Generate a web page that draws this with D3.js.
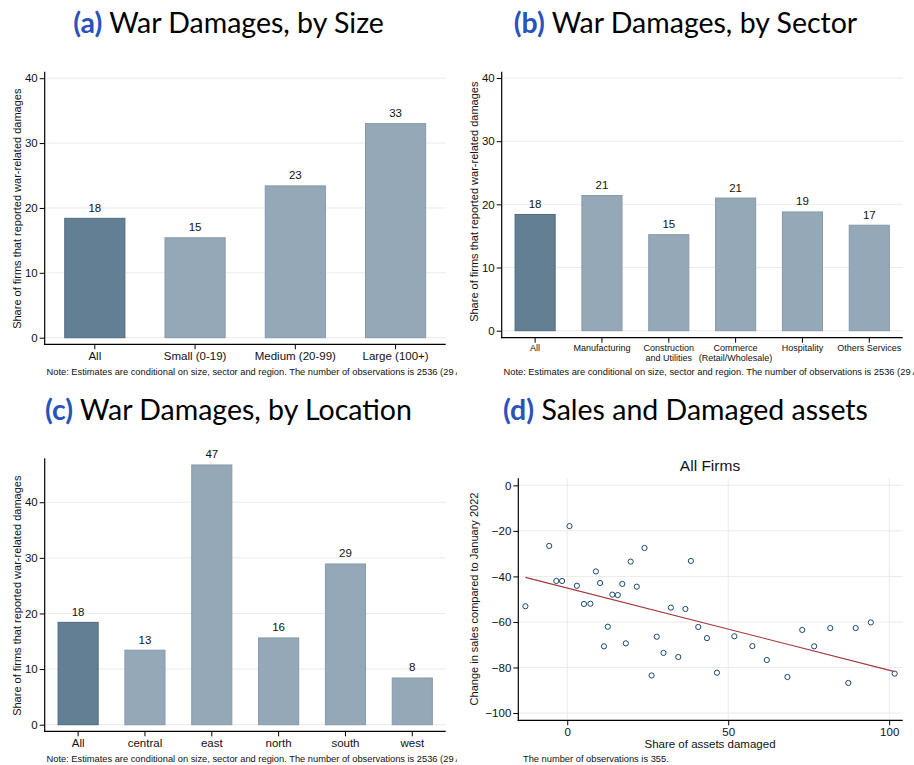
<!DOCTYPE html>
<html>
<head>
<meta charset="utf-8">
<script src="https://cdn.jsdelivr.net/npm/d3@7"></script>
<style>
  body { margin: 0; background: #fff; }
  text { font-family: "Liberation Sans", Arial, sans-serif; fill: #111; }
  .title { font-family: Lato, "Open Sans", sans-serif; font-size: 28.5px; fill: #000; }
  .title .tag { fill: #2a52be; font-weight: 700; }
</style>
</head>
<body>
<svg id="chart" width="914" height="765"></svg>
<script>
// panel (a) by size
var sizeCats = ["All", "Small (0-19)", "Medium (20-99)", "Large (100+)"];
var sizeVals = [18.4, 15.4, 23.4, 33.0];

// panel (b) by sector
var sectorCats = ["All", "Manufacturing", "Construction|and Utilities", "Commerce|(Retail/Wholesale)", "Hospitality", "Others Services"];
var sectorVals = [18.4, 21.4, 15.2, 21.0, 18.8, 16.7];

// panel (c) by location
var locCats = ["All", "central", "east", "north", "south", "west"];
var locVals = [18.4, 13.4, 46.7, 15.6, 28.9, 8.4];

var barTicks = [0, 10, 20, 30, 40];

// panel (d) binned scatter
var damaged = [-13.0, -5.6, -3.4, -1.6, 0.7, 3.0, 5.2, 7.2, 8.9, 10.2, 11.4, 12.6, 14.0, 15.7, 17.1, 18.2, 19.7, 21.6, 24.0, 26.2,
               27.8, 29.9, 32.2, 34.5, 36.7, 38.4, 40.7, 43.4, 46.5, 51.9, 57.5, 62.0, 68.4, 73.0, 76.7, 81.7, 87.3, 89.6, 94.3, 101.7];
var salesChg = [-53.1, -26.6, -42.0, -42.0, -17.9, -44.1, -52.1, -52.0, -37.8, -42.9, -70.7, -62.1, -48.0, -48.2, -43.3, -69.4, -33.5, -44.5, -27.5, -83.5,
                -66.5, -73.6, -53.7, -75.4, -54.3, -33.2, -62.2, -67.1, -82.3, -66.3, -70.6, -76.7, -84.2, -63.5, -70.7, -62.7, -86.8, -62.7, -60.2, -82.7];
var fitIntercept = -45.1;
var fitSlope = -0.361;
var scatterXTicks = [0, 50, 100];
var scatterYTicks = [0, -20, -40, -60, -80, -100];

var noteText = "Note: Estimates are conditional on size, sector and region. The number of observations is 2536 (29 A";

var darkFill = "#637f93", darkStroke = "#4f6a80";
var lightFill = "#95a8b8", lightStroke = "#8599ac";
var gridColor = "#ebebeb";

var svg = d3.select("#chart");
var panelW = 457;

function panel(x, y, id) {
  svg.append("clipPath").attr("id", "clip" + id)
    .append("rect").attr("width", panelW).attr("height", 390);
  return svg.append("g")
    .attr("transform", "translate(" + x + "," + y + ")")
    .attr("clip-path", "url(#clip" + id + ")");
}

function title(g, tag, txt, base) {
  var t = g.append("text").attr("class", "title")
    .attr("x", 228.5).attr("y", base).attr("text-anchor", "middle");
  t.append("tspan").attr("class", "tag").text(tag);
  t.append("tspan").text(" " + txt);
}

function barPanel(g, o) {
  var x = d3.scaleBand().domain(o.cats).range([44.7, 445.7])
    .paddingInner(0.4).paddingOuter(0.2);
  var y = d3.scaleLinear().domain([0, o.ymax]).range([o.y0, o.ytop]);

  // gridlines
  g.selectAll(".grid").data(barTicks).enter().append("line")
    .attr("x1", 46).attr("x2", 445.7)
    .attr("y1", function(d) { return y(d); }).attr("y2", function(d) { return y(d); })
    .attr("stroke", gridColor).attr("stroke-width", 1);

  // bars
  g.selectAll(".bar").data(o.vals).enter().append("rect")
    .attr("x", function(d, i) { return x(o.cats[i]); })
    .attr("width", x.bandwidth())
    .attr("y", function(d) { return y(d); })
    .attr("height", function(d) { return y(0) - y(d); })
    .attr("fill", function(d, i) { return i == 0 ? darkFill : lightFill; })
    .attr("stroke", function(d, i) { return i == 0 ? darkStroke : lightStroke; })
    .attr("stroke-width", 1);

  g.selectAll(".lab").data(o.vals).enter().append("text")
    .attr("x", function(d, i) { return x(o.cats[i]) + x.bandwidth() / 2; })
    .attr("y", function(d) { return y(d) - 6.5; })
    .attr("text-anchor", "middle").attr("font-size", 11.5)
    .text(function(d) { return Math.round(d); });

  // y axis
  var ya = g.append("g").attr("transform", "translate(44.7,0)")
    .call(d3.axisLeft(y).tickValues(barTicks).tickSize(5).tickPadding(2));
  ya.select(".domain").remove();
  ya.selectAll("text").attr("font-size", 11.5).attr("fill", "#111");
  g.append("line").attr("x1", 44.7).attr("x2", 44.7)
    .attr("y1", o.ytopAxis).attr("y2", o.xaxisY + 0.6)
    .attr("stroke", "#000").attr("stroke-width", 1.2);

  // x axis
  var xa = g.append("g").attr("transform", "translate(0," + o.xaxisY + ")")
    .call(d3.axisBottom(x).tickSize(5).tickFormat(""));
  xa.select(".domain").remove();
  g.append("line").attr("x1", 44.1).attr("x2", 445.7)
    .attr("y1", o.xaxisY).attr("y2", o.xaxisY)
    .attr("stroke", "#000").attr("stroke-width", 1.2);

  o.cats.forEach(function(c) {
    var lines = c.split("|");
    var t = g.append("text")
      .attr("x", x(c) + x.bandwidth() / 2).attr("y", o.labY)
      .attr("text-anchor", "middle").attr("font-size", o.labSize);
    lines.forEach(function(l, k) {
      t.append("tspan").attr("x", x(c) + x.bandwidth() / 2)
        .attr("dy", k == 0 ? 0 : 10).text(l);
    });
  });

  g.append("text")
    .attr("transform", "translate(21," + (o.y0 - 129) + ") rotate(-90)")
    .attr("text-anchor", "middle").attr("font-size", 11)
    .text("Share of firms that reported war-related damages");

  g.append("text").attr("x", 46.5).attr("y", o.noteY)
    .attr("font-size", 9.3).text(noteText);
}

// (a)
var ga = panel(0, 0, "a");
title(ga, "(a)", "War Damages, by Size", 32.5);
barPanel(ga, { cats: sizeCats, vals: sizeVals, ymax: 41, y0: 337.7, ytop: 71.7, ytopAxis: 71.7,
  xaxisY: 344.3, labY: 360, labSize: 11.5, noteY: 374.5 });

// (b)
var gb = panel(457, 0, "b");
title(gb, "(b)", "War Damages, by Sector", 32.5);
barPanel(gb, { cats: sectorCats, vals: sectorVals, ymax: 41, y0: 330.7, ytop: 71.7, ytopAxis: 71.7,
  xaxisY: 337.7, labY: 351, labSize: 9, noteY: 374.5 });

// (c)
var gc = panel(0, 390, "c");
title(gc, "(c)", "War Damages, by Location", 29.5);
barPanel(gc, { cats: locCats, vals: locVals, ymax: 47.9, y0: 334.7, ytop: 68.3, ytopAxis: 68.3,
  xaxisY: 341.3, labY: 357, labSize: 11.5, noteY: 372 });

// (d) scatter
var gd = panel(457, 390, "d");
title(gd, "(d)", "Sales and Damaged assets", 29.5);

var sx = d3.scaleLinear().domain([-15.2, 104.2]).range([61.3, 445.7]);
var sy = d3.scaleLinear().domain([-103.2, 3.1]).range([330.3, 88.3]);

gd.selectAll(".hg").data(scatterYTicks).enter().append("line")
  .attr("x1", 62).attr("x2", 445.7)
  .attr("y1", function(d) { return sy(d); }).attr("y2", function(d) { return sy(d); })
  .attr("stroke", gridColor);
gd.selectAll(".vg").data(scatterXTicks).enter().append("line")
  .attr("y1", 88.3).attr("y2", 329.5)
  .attr("x1", function(d) { return sx(d); }).attr("x2", function(d) { return sx(d); })
  .attr("stroke", gridColor);

// fitted line
var xr = d3.extent(damaged);
gd.append("line")
  .attr("x1", sx(xr[0])).attr("y1", sy(fitIntercept + fitSlope * xr[0]))
  .attr("x2", sx(xr[1])).attr("y2", sy(fitIntercept + fitSlope * xr[1]))
  .attr("stroke", "#a4363a").attr("stroke-width", 1.1);

gd.selectAll(".pt").data(damaged).enter().append("circle")
  .attr("cx", function(d) { return sx(d); })
  .attr("cy", function(d, i) { return sy(salesChg[i]); })
  .attr("r", 2.6).attr("fill", "#fff")
  .attr("stroke", "#1a476f").attr("stroke-width", 1);

var dya = gd.append("g").attr("transform", "translate(61.3,0)")
  .call(d3.axisLeft(sy).tickValues(scatterYTicks).tickSize(5).tickPadding(2));
dya.select(".domain").remove();
dya.selectAll("text").attr("font-size", 11.5).attr("fill", "#111");
var dxa = gd.append("g").attr("transform", "translate(0,330.3)")
  .call(d3.axisBottom(sx).tickValues(scatterXTicks).tickSize(5).tickPadding(3));
dxa.select(".domain").remove();
dxa.selectAll("text").attr("font-size", 11.5).attr("fill", "#111");
gd.append("line").attr("x1", 61.3).attr("x2", 61.3).attr("y1", 88.3).attr("y2", 330.9)
  .attr("stroke", "#000").attr("stroke-width", 1.2);
gd.append("line").attr("x1", 60.7).attr("x2", 445.7).attr("y1", 330.3).attr("y2", 330.3)
  .attr("stroke", "#000").attr("stroke-width", 1.2);

gd.append("text").attr("x", 253).attr("y", 81).attr("text-anchor", "middle")
  .attr("font-size", 15.5).text("All Firms");
gd.append("text").attr("x", 253).attr("y", 358).attr("text-anchor", "middle")
  .attr("font-size", 11.5).text("Share of assets damaged");
gd.append("text")
  .attr("transform", "translate(21,209) rotate(-90)")
  .attr("text-anchor", "middle").attr("font-size", 11)
  .text("Change in sales compared to January 2022");
gd.append("text").attr("x", 66).attr("y", 372).attr("font-size", 9.3)
  .text("The number of observations is 355.");
</script>
</body>
</html>
